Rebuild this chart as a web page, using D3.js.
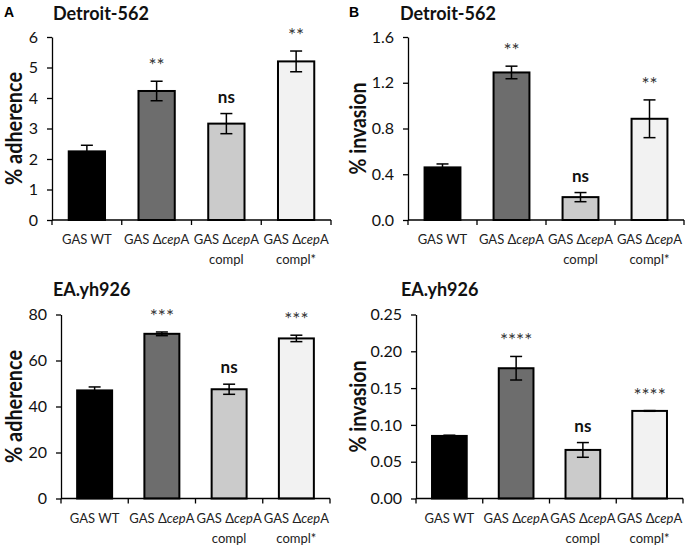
<!DOCTYPE html>
<html>
<head>
<meta charset="utf-8">
<script src="https://cdn.jsdelivr.net/npm/d3@7"></script>
<style>
  body { margin: 0; background: #fff; }
  text { font-family: Lato, "Open Sans", sans-serif; }
</style>
</head>
<body>
<script>
// categories, each one split into label lines
var categories = ["GAS WT", "GAS ΔcepA", "GAS ΔcepA compl", "GAS ΔcepA compl*"];
var categoryLines = [["GAS WT"], ["GAS ΔcepA"], ["GAS ΔcepA", "compl"], ["GAS ΔcepA", "compl*"]];
var barColors = ["#000000", "#6d6d6d", "#cbcbcb", "#f2f2f2"];

// Detroit-562 adherence
var adhDetroit = [2.25, 4.23, 3.16, 5.2];
var adhDetroitErr = [0.2, 0.32, 0.33, 0.34];
var adhDetroitSig = ["", "**", "ns", "**"];
var adhDetroitTicks = [0, 1, 2, 3, 4, 5, 6];

// Detroit-562 invasion
var invDetroit = [0.46, 1.29, 0.2, 0.885];
var invDetroitErr = [0.03, 0.055, 0.04, 0.165];
var invDetroitSig = ["", "**", "ns", "**"];
var invDetroitTicks = [0, 0.4, 0.8, 1.2, 1.6];

// EA.yh926 adherence
var adhEA = [47.0, 71.6, 47.5, 69.6];
var adhEAErr = [1.5, 0.8, 2.2, 1.4];
var adhEASig = ["", "***", "ns", "***"];
var adhEATicks = [0, 20, 40, 60, 80];

// EA.yh926 invasion
var invEA = [0.085, 0.177, 0.066, 0.119];
var invEAErr = [0.001, 0.016, 0.01, 0.0005];
var invEASig = ["", "****", "ns", "****"];
var invEATicks = [0, 0.05, 0.1, 0.15, 0.2, 0.25];

var svg = d3.select("body").append("svg")
	.attr("width", 696)
	.attr("height", 545);

function drawPanel(p) {
	var g = svg.append("g");

	var x = d3.scaleBand()
		.domain(categories)
		.range([p.left, p.right])
		.padding(0);
	var y = d3.scaleLinear()
		.domain([0, d3.max(p.ticks)])
		.range([p.bottom, p.top]);
	var barW = x.bandwidth() * 0.52;

	// bars
	g.selectAll("rect.bar").data(p.values)
		.enter().append("rect")
		.attr("class", "bar")
		.attr("x", function(d, i) { return x(categories[i]) + (x.bandwidth() - barW) / 2; })
		.attr("y", function(d) { return y(d); })
		.attr("width", barW)
		.attr("height", function(d) { return p.bottom - y(d); })
		.attr("fill", function(d, i) { return barColors[i]; })
		.attr("stroke", "#000")
		.attr("stroke-width", 2);

	// error bars
	var eb = g.selectAll("g.err").data(p.values)
		.enter().append("g")
		.attr("class", "err")
		.attr("stroke", "#000")
		.attr("stroke-width", 1.5);
	eb.append("line")
		.attr("x1", function(d, i) { return x(categories[i]) + x.bandwidth() / 2; })
		.attr("x2", function(d, i) { return x(categories[i]) + x.bandwidth() / 2; })
		.attr("y1", function(d, i) { return y(d - p.errors[i]); })
		.attr("y2", function(d, i) { return y(d + p.errors[i]); });
	[1, -1].forEach(function(s) {
		eb.append("line")
			.attr("x1", function(d, i) { return x(categories[i]) + x.bandwidth() / 2 - 6; })
			.attr("x2", function(d, i) { return x(categories[i]) + x.bandwidth() / 2 + 6; })
			.attr("y1", function(d, i) { return y(d + s * p.errors[i]); })
			.attr("y2", function(d, i) { return y(d + s * p.errors[i]); });
	});

	// significance labels
	g.selectAll("text.sig").data(p.sig)
		.enter().append("text")
		.attr("class", "sig")
		.attr("x", function(d, i) { return x(categories[i]) + x.bandwidth() / 2; })
		.attr("y", function(d, i) { return y(p.values[i] + p.errors[i]) - (d == "ns" ? 11 : 9); })
		.attr("text-anchor", "middle")
		.attr("font-size", function(d) { return d == "ns" ? 17 : 19; })
		.attr("font-weight", function(d) { return d == "ns" ? "bold" : "normal"; })
		.attr("fill", function(d) { return d == "ns" ? "#111" : "#333"; })
		.text(function(d) { return d; });

	// y axis
	var yAxis = g.append("g")
		.attr("transform", "translate(" + p.left + ",0)")
		.call(d3.axisLeft(y).tickValues(p.ticks).tickFormat(p.fmt)
			.tickSize(5).tickSizeOuter(0).tickPadding(9));
	yAxis.select(".domain").attr("stroke", "#000").attr("stroke-width", 1.3);
	yAxis.selectAll(".tick line").attr("stroke", "#000").attr("stroke-width", 1.3);
	yAxis.selectAll(".tick text")
		.attr("font-size", 16)
		.attr("fill", "#111")
		.style("font-family", "Lato, sans-serif");

	// x axis line and boundary ticks
	g.append("line")
		.attr("x1", p.left).attr("x2", p.right)
		.attr("y1", p.bottom).attr("y2", p.bottom)
		.attr("stroke", "#000").attr("stroke-width", 1.3);
	var bounds = categories.map(function(c) { return x(c); }).concat([p.right]);
	g.selectAll("line.xt").data(bounds)
		.enter().append("line")
		.attr("class", "xt")
		.attr("x1", function(d) { return d; })
		.attr("x2", function(d) { return d; })
		.attr("y1", p.bottom)
		.attr("y2", p.bottom + 5)
		.attr("stroke", "#000").attr("stroke-width", 1.3);

	// x labels, "cep" in italics
	categoryLines.forEach(function(lines, i) {
		var t = g.append("text")
			.attr("text-anchor", "middle")
			.attr("font-size", 13)
			.attr("fill", "#222");
		lines.forEach(function(line, j) {
			var parts = line.split(/(cep)/);
			parts.forEach(function(part, k) {
				if (part === "") return;
				var ts = t.append("tspan").text(part);
				if (k == 0) {
					ts.attr("x", x(categories[i]) + x.bandwidth() / 2)
						.attr("y", p.bottom + 24 + j * 20);
				}
				if (part == "cep") ts.attr("font-style", "italic");
			});
		});
	});

	// y label
	g.append("text")
		.attr("transform", "translate(" + p.labelX + "," + ((p.top + p.bottom) / 2) + ") rotate(-90)")
		.attr("text-anchor", "middle")
		.attr("dy", "0.35em")
		.attr("font-size", 22)
		.attr("font-weight", "bold")
		.attr("fill", "#111")
		.attr("textLength", p.labelLen)
		.attr("lengthAdjust", "spacingAndGlyphs")
		.text(p.ylabel);

	// title
	g.append("text")
		.attr("x", p.titleX)
		.attr("y", p.titleY)
		.attr("font-size", 18)
		.attr("font-weight", "bold")
		.attr("fill", "#111")
		.text(p.title);

	if (p.letter) {
		g.append("text")
			.attr("x", p.letterX)
			.attr("y", 17)
			.attr("font-size", 14)
			.attr("font-weight", "bold")
			.style("font-family", "Arial, 'Liberation Sans', sans-serif")
			.text(p.letter);
	}
}

drawPanel({
	letter: "A", letterX: 4, title: "Detroit-562", ylabel: "% adherence", labelLen: 113,
	values: adhDetroit, errors: adhDetroitErr, sig: adhDetroitSig, ticks: adhDetroitTicks,
	fmt: d3.format("d"), left: 52, right: 331, top: 37, bottom: 220, titleX: 53, titleY: 20, labelX: 14
});
drawPanel({
	letter: "B", letterX: 349, title: "Detroit-562", ylabel: "% invasion", labelLen: 92,
	values: invDetroit, errors: invDetroitErr, sig: invDetroitSig, ticks: invDetroitTicks,
	fmt: d3.format(".1f"), left: 408, right: 684, top: 37, bottom: 220, titleX: 400, titleY: 20, labelX: 358
});
drawPanel({
	title: "EA.yh926", ylabel: "% adherence", labelLen: 113,
	values: adhEA, errors: adhEAErr, sig: adhEASig, ticks: adhEATicks,
	fmt: d3.format("d"), left: 61, right: 330, top: 314.5, bottom: 498.5, titleX: 53, titleY: 296, labelX: 14
});
drawPanel({
	title: "EA.yh926", ylabel: "% invasion", labelLen: 92,
	values: invEA, errors: invEAErr, sig: invEASig, ticks: invEATicks,
	fmt: d3.format(".2f"), left: 416, right: 683, top: 314.5, bottom: 498.5, titleX: 401, titleY: 296, labelX: 358
});
</script>
</body>
</html>
